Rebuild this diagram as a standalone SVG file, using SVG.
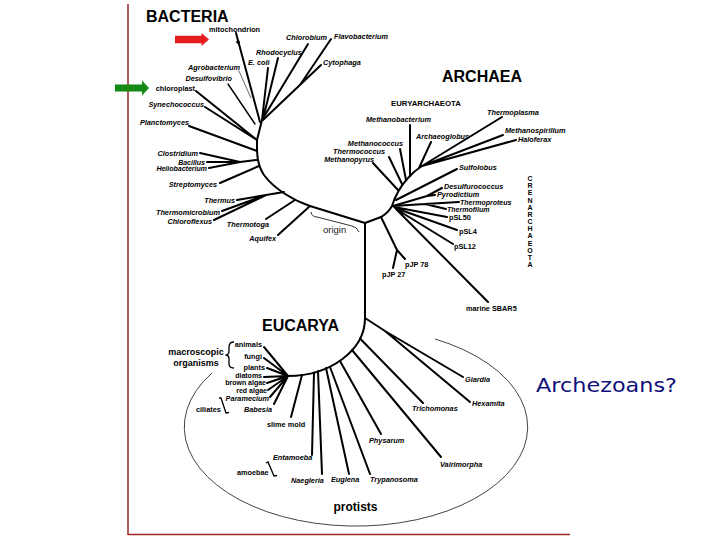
<svg xmlns="http://www.w3.org/2000/svg" width="720" height="540" viewBox="0 0 720 540">
<style>
.br{stroke:#000;stroke-width:2;fill:none;stroke-linecap:round;stroke-linejoin:round}
.th{stroke-width:1.4}
.fine{stroke:#555;stroke-width:0.9}
.lb{font-family:"Liberation Sans",Arial,sans-serif;font-weight:bold;font-size:7.3px;fill:#000}
.sm{font-size:7px}
.it{font-style:italic}
.end{text-anchor:end}
.dom{font-family:"Liberation Sans",Arial,sans-serif;font-weight:bold;font-size:16px;fill:#000}
.grp{font-family:"Liberation Sans",Arial,sans-serif;font-weight:bold;font-size:9px;fill:#000}
.vert{writing-mode:vertical-rl;text-orientation:upright;font-size:7px;letter-spacing:0.17px}
</style>
<rect width="720" height="540" fill="#fff"/>
<g id="frame" stroke="#9a2424" stroke-width="1.5" fill="none">
<line x1="128" y1="4" x2="128" y2="535"/>
<line x1="128" y1="534.5" x2="570" y2="534.5"/>
</g>
<g id="connectors">
<!-- bacteria -->
<path class="br" d="M365 223 L310 206 C295 201 275 190 264 175 C256 163 257 150 257 140 L262 120"/>
<path class="br" d="M310 206 L278 235"/>
<path class="br" d="M295 200 L266 219"/>
<path class="br" d="M284 192 L237 200 M266 195 L222 211 M266 195 L214 220"/>
<path class="br" d="M259 166 L220 183"/>
<path class="br" d="M257 160 L240 162 L200 153 M240 162 L207 162 M240 162 L209 168"/>
<path class="br" d="M257 151 L189 126"/>
<path class="br" d="M257 140 L196 91 M257 140 L205 107"/>
<path class="br" d="M260 122 L236 33"/>
<circle cx="238" cy="42" r="1.8" fill="#000"/>
<path class="br fine" d="M239 71 L251 98"/>
<path class="br th" d="M228 84 L255 124"/>
<path class="br" d="M268 68 L262 120 M278 58 L263 119"/>
<path class="br" d="M308 44 L262 120"/>
<path class="br" d="M321 65 L263 120 M331 39 L300 85"/>
<!-- archaea -->
<path class="br" d="M365 223 L381 217 Q388 213 392 206 Q397 190 408 178 Q414 171 422 166"/>
<path class="br" d="M381 217 L397 250 L405 259 M397 250 L393 268"/>
<path class="br" d="M393 206 L427 196 L442 188 M427 196 L435 195"/>
<path class="br" d="M393 206 L425 204 L459 202 M425 204 L446 209"/>
<path class="br" d="M394 207 L447 217 M395 208 L457 230 M396 209 L453 244 M396 209 L488 302"/>
<path class="br" d="M396 200 L457 169"/>
<path class="br" d="M398 190 L373 163 M402 184 L389 157 M406 180 L400 149 M410 176 L410 125"/>
<path class="br" d="M419 168 L431 142 M422 166 L502 117 M422 166 L503 135 M422 166 L516 140"/>
<!-- eucarya -->
<path class="br" d="M365 223 L365 318 A77 58 0 0 1 288 376"/>
<path class="br" d="M365 318 L385 331 L463 377 M385 331 L470 402"/>
<path class="br" d="M360 338.5 L423 403 M352 350 L441 457 M340 361 L381 434"/>
<path class="br" d="M330 367 L370 474 M326 368 L349 474 M318 371 L322 474 M314 372.5 L312 455 M302 375 L291 417"/>
<path class="br" d="M288 376 L264 347 M288 376 L264 358 M288 376 L267 368 M288 376 L264 377 M288 376 L267 383 M288 376 L268 390 M288 376 L270 397 M288 376 L274 404"/>
</g>
<g id="origin">
<path d="M311 212 Q312 217 317 217 L352 226 Q357 227 359 232" fill="none" stroke="#333" stroke-width="1"/>
<text x="323" y="233" font-family="Liberation Sans, Arial, sans-serif" font-size="9.5" fill="#222">origin</text>
</g>
<g id="protists">
<path d="M212 373 A171.7 99.1 0 1 0 435 339" fill="none" stroke="#444" stroke-width="1"/>
<text x="355.5" y="511" text-anchor="middle" font-family="Liberation Sans, Arial, sans-serif" font-weight="bold" font-size="12" fill="#000">protists</text>
</g>
<g id="arrows">
<polygon points="175,35.7 201.5,35.7 201.5,33 209,39.5 201.5,46 201.5,43.3 175,43.3" fill="#e41e1e"/>
<polygon points="115,84.5 142,84.5 142,80.5 149,88 142,95.5 142,91.5 115,91.5" fill="#138a13"/>
</g>
<g id="bacteria">
<text class="dom" x="146" y="22">BACTERIA</text>
<text class="lb" x="209" y="32">mitochondrion</text>
<text class="lb it" x="286" y="40">Chlorobium</text>
<text class="lb it" x="334" y="39">Flavobacterium</text>
<text class="lb it" x="256" y="55">Rhodocyclus</text>
<text class="lb it" x="248" y="65">E. coli</text>
<text class="lb it" x="323" y="65">Cytophaga</text>
<text class="lb it end" x="240" y="70">Agrobacterium</text>
<text class="lb it end" x="232" y="81">Desulfovibrio</text>
<text class="lb end" x="195" y="91">chloroplast</text>
<text class="lb it end" x="204" y="107">Synechococcus</text>
<text class="lb it end" x="189" y="125">Planctomyces</text>
<text class="lb it end" x="198" y="156">Clostridium</text>
<text class="lb it end sm" x="205" y="164.5">Bacillus</text>
<text class="lb it end sm" x="207" y="171">Heliobacterium</text>
<text class="lb it end" x="217" y="187">Streptomyces</text>
<text class="lb it end" x="235" y="203">Thermus</text>
<text class="lb it end" x="220" y="215">Thermomicrobium</text>
<text class="lb it end" x="212" y="224">Chloroflexus</text>
<text class="lb it end" x="269" y="227">Thermotoga</text>
<text class="lb it end" x="276" y="241">Aquifex</text>
</g>
<g id="archaea">
<text class="dom" x="442" y="82">ARCHAEA</text>
<text class="lb" x="391" y="106" style="font-size:7.8px">EURYARCHAEOTA</text>
<text class="lb it" x="366" y="122">Methanobacterium</text>
<text class="lb it" x="487" y="115">Thermoplasma</text>
<text class="lb it" x="416" y="139">Archaeoglobus</text>
<text class="lb it" x="505" y="133">Methanospirillum</text>
<text class="lb it" x="518" y="142">Haloferax</text>
<text class="lb it end" x="403" y="146">Methanococcus</text>
<text class="lb it end" x="385" y="154">Thermococcus</text>
<text class="lb it end" x="374" y="162">Methanopyrus</text>
<text class="lb it" x="459" y="170">Sulfolobus</text>
<text class="lb it" x="444" y="189">Desulfurococcus</text>
<text class="lb it" x="437" y="197">Pyrodictium</text>
<text class="lb it sm" x="460" y="204.5">Thermoproteus</text>
<text class="lb it sm" x="447" y="212">Thermofilum</text>
<text class="lb" x="449" y="220">pSL50</text>
<text class="lb" x="459" y="234">pSL4</text>
<text class="lb" x="454" y="249">pSL12</text>
<text class="lb" x="405" y="267">pJP 78</text>
<text class="lb" x="382" y="277">pJP 27</text>
<text class="lb" x="466" y="311">marine SBAR5</text>
<text class="lb vert" x="530" y="175">CRENARCHAEOTA</text>
</g>
<g id="eucarya">
<text class="dom" x="262" y="331">EUCARYA</text>
<text class="grp" x="196" y="355" text-anchor="middle">macroscopic</text>
<text class="grp" x="196" y="366" text-anchor="middle">organisms</text>
<path d="M234 342 Q229 342 229 347 L229 351 Q229 355 225.5 355 Q229 355 229 359 L229 364 Q229 368 234 368" fill="none" stroke="#000" stroke-width="1.3"/>
<text class="lb end" x="262" y="347">animals</text>
<text class="lb end" x="262" y="359">fungi</text>
<text class="lb end" x="265" y="369.5">plants</text>
<text class="lb end sm" x="262" y="378">diatoms</text>
<text class="lb end sm" x="266" y="385">brown algae</text>
<text class="lb end sm" x="267" y="392.5">red algae</text>
<text class="lb it end" x="269" y="401">Paramecium</text>
<text class="lb it end" x="272" y="412">Babesia</text>
<text class="lb" x="196" y="412">ciliates</text>
<path d="M219 398 L221 398 L226 413 L229 412.5" fill="none" stroke="#000" stroke-width="1.3"/>
<text class="lb" x="267" y="427">slime mold</text>
<text class="lb it" x="273" y="460">Entamoeba</text>
<text class="lb" x="237" y="475">amoebae</text>
<path d="M266 463 L268 462 L274 476 L277 475.5" fill="none" stroke="#000" stroke-width="1.3"/>
<text class="lb it" x="291" y="483">Naegleria</text>
<text class="lb it" x="331" y="482">Euglena</text>
<text class="lb it" x="370" y="482">Trypanosoma</text>
<text class="lb it" x="369" y="443">Physarum</text>
<text class="lb it" x="440" y="467">Vairimorpha</text>
<text class="lb it" x="412" y="411">Trichomonas</text>
<text class="lb it" x="465" y="382">Giardia</text>
<text class="lb it" x="472" y="406">Hexamita</text>
</g>
<g id="archezoans">
<text x="536" y="392" font-family="DejaVu Sans, sans-serif" font-size="20" fill="#10107a" textLength="141" lengthAdjust="spacingAndGlyphs">Archezoans?</text>
</g>
</svg>
